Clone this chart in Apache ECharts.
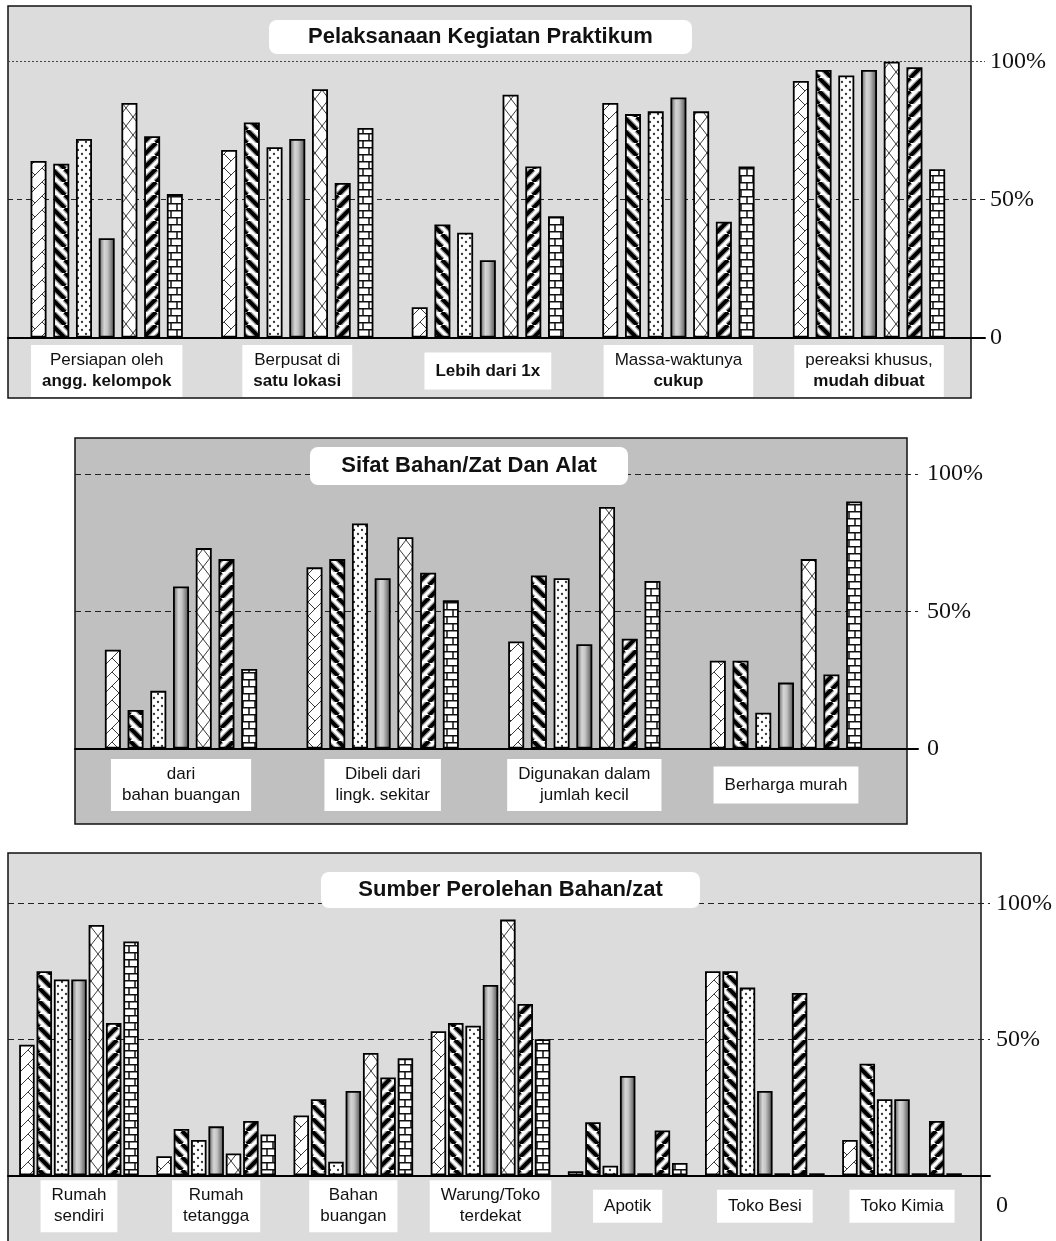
<!DOCTYPE html>
<html>
<head>
<meta charset="utf-8">
<script src="https://cdn.jsdelivr.net/npm/echarts@6/dist/echarts.min.js"></script>
<style>
  html, body { margin: 0; padding: 0; background: #fff; }
  #chart { width: 1056px; height: 1241px; }
</style>
</head>
<body>
<div id="chart"></div>
<script>
// ---------- data ----------
// Percentage scale shared by all three panels
const percentTicks = [0, 50, 100];

// Panel 1: Pelaksanaan Kegiatan Praktikum (one array per respondent group / bar pattern)
const kegiatanCategories = ['Persiapan oleh\nangg. kelompok', 'Berpusat di\nsatu lokasi', 'Lebih dari 1x', 'Massa-waktunya\ncukup', 'pereaksi khusus,\nmudah dibuat'];
const kegiatanGroup1 = [64, 68, 11, 85, 93];
const kegiatanGroup2 = [63, 78, 41, 81, 97];
const kegiatanGroup3 = [72, 69, 38, 82, 95];
const kegiatanGroup4 = [36, 72, 28, 87, 97];
const kegiatanGroup5 = [85, 90, 88, 82, 100];
const kegiatanGroup6 = [73, 56, 62, 42, 98];
const kegiatanGroup7 = [52, 76, 44, 62, 61];

// Panel 2: Sifat Bahan/Zat Dan Alat
const sifatCategories = ['dari\nbahan buangan', 'Dibeli dari\nlingk. sekitar', 'Digunakan dalam\njumlah kecil', 'Berharga murah'];
const sifatGroup1 = [36, 66, 39, 32];
const sifatGroup2 = [14, 69, 63, 32];
const sifatGroup3 = [21, 82, 62, 13];
const sifatGroup4 = [59, 62, 38, 24];
const sifatGroup5 = [73, 77, 88, 69];
const sifatGroup6 = [69, 64, 40, 27];
const sifatGroup7 = [29, 54, 61, 90];

// Panel 3: Sumber Perolehan Bahan/zat
const sumberCategories = ['Rumah\nsendiri', 'Rumah\ntetangga', 'Bahan\nbuangan', 'Warung/Toko\nterdekat', 'Apotik', 'Toko Besi', 'Toko Kimia'];
const sumberGroup1 = [48, 7, 22, 53, 1.5, 75, 13];
const sumberGroup2 = [75, 17, 28, 56, 19.5, 75, 41];
const sumberGroup3 = [72, 13, 5, 55, 3.5, 69, 28];
const sumberGroup4 = [72, 18, 31, 70, 36.5, 31, 28];
const sumberGroup5 = [92, 8, 45, 94, 0, 0, 0];
const sumberGroup6 = [56, 20, 36, 63, 16.5, 67, 20];
const sumberGroup7 = [86, 15, 43, 50, 4.5, 0, 0];

// ---------- bar fills ----------
function tile(w, h, draw) {
  const c = document.createElement('canvas');
  c.width = w; c.height = h;
  const g = c.getContext('2d');
  g.fillStyle = '#fff';
  g.fillRect(0, 0, w, h);
  draw(g, w, h);
  return { image: c, repeat: 'repeat' };
}
function stripes(dir) {
  return tile(13, 13, (g, w, h) => {
    [[6.5, '#a0a0a0'], [4, '#000']].forEach(([lw, col]) => {
      g.strokeStyle = col; g.lineWidth = lw;
      for (let k = -1; k <= 1; k++) {
        g.beginPath();
        if (dir > 0) { g.moveTo(k * w, 0); g.lineTo(k * w + w, h); }
        else { g.moveTo(k * w, h); g.lineTo(k * w + w, 0); }
        g.stroke();
      }
    });
  });
}
const fills = [
  // light slanted lattice
  tile(14, 14, (g, w, h) => {
    g.strokeStyle = '#3a3a3a'; g.lineWidth = 1;
    for (let k = -1; k <= 1; k++) { g.beginPath(); g.moveTo(k * w, h); g.lineTo(k * w + w, 0); g.stroke(); }
    g.beginPath(); g.moveTo(0, 0); g.lineTo(w / 2, h / 2); g.stroke();
  }),
  stripes(1),
  // dots
  tile(8, 8, (g) => {
    g.fillStyle = '#333';
    [[2, 2], [6, 6]].forEach(([x, y]) => { g.beginPath(); g.arc(x, y, 1.15, 0, Math.PI * 2); g.fill(); });
  }),
  // cylinder shading
  { type: 'linear', x: 0, y: 0, x2: 1, y2: 0, colorStops: [
    { offset: 0, color: '#5a5a5a' }, { offset: 0.35, color: '#d6d6d6' },
    { offset: 0.55, color: '#c4c4c4' }, { offset: 1, color: '#4a4a4a' } ] },
  // cross hatch
  tile(14, 18, (g, w, h) => {
    g.strokeStyle = '#3a3a3a'; g.lineWidth = 1;
    g.beginPath(); g.moveTo(0, 0); g.lineTo(w, h); g.moveTo(0, h); g.lineTo(w, 0); g.stroke();
  }),
  stripes(-1),
  // brick
  tile(12, 14, (g, w, h) => {
    g.strokeStyle = '#111'; g.lineWidth = 1.5;
    g.beginPath();
    g.moveTo(0, 0.75); g.lineTo(w, 0.75);
    g.moveTo(0, 7.75); g.lineTo(w, 7.75);
    g.moveTo(3, 0); g.lineTo(3, 7);
    g.moveTo(9, 7); g.lineTo(9, 14);
    g.stroke();
  })
];

// ---------- layout ----------
const TRANSPARENT = 'rgba(0,0,0,0)';
const SANS = '"Liberation Sans", Arial, sans-serif';
const SERIF = '"Liberation Serif", "Times New Roman", serif';

const option = { animation: false, grid: [], xAxis: [], yAxis: [], series: [], graphic: [] };

function catRich(singleLH) {
  const base = { fontFamily: SANS, fontSize: 17, color: '#111', lineHeight: 21 };
  return {
    n: Object.assign({}, base),
    b: Object.assign({}, base, { fontWeight: 'bold' }),
    one: Object.assign({}, base, { lineHeight: singleLH }),
    oneb: Object.assign({}, base, { lineHeight: singleLH, fontWeight: 'bold' })
  };
}

function addPanel(p) {
  // panel background and frame
  option.graphic.push({
    type: 'rect', z: -10, silent: true,
    shape: { x: p.box[0], y: p.box[1], width: p.box[2], height: p.box[3] },
    style: { fill: p.fill, stroke: '#111', lineWidth: 1.5 }
  });
  // title plate
  option.graphic.push({
    type: 'rect', z: 50, silent: true,
    shape: { x: p.title[0], y: p.title[1], width: p.title[2], height: p.title[3], r: 8 },
    style: { fill: '#fff' }
  });
  option.graphic.push({
    type: 'text', z: 51, silent: true,
    x: p.title[0] + p.title[2] / 2, y: p.title[1] + p.title[3] / 2,
    style: { text: p.titleText, font: 'bold 22px ' + SANS, fill: '#111',
      align: 'center', verticalAlign: 'middle', textAlign: 'center', textVerticalAlign: 'middle' }
  });

  // reference grid: percentage lines, zero line and labels
  const f = p.frame;
  const gf = option.grid.length;
  option.grid.push({ left: f.left, top: f.top, width: f.right - f.left, height: f.bottom - f.top,
    containLabel: false, outerBoundsMode: 'none' });
  option.xAxis.push({ gridIndex: gf, type: 'value', min: 0, max: 1, position: 'bottom',
    axisLine: { show: true, onZero: false, lineStyle: { color: '#000', width: 2 } },
    axisTick: { show: false }, axisLabel: { show: false }, splitLine: { show: false } });
  option.yAxis.push({ gridIndex: gf, type: 'value', min: percentTicks[0], max: percentTicks[2],
    interval: percentTicks[1] - percentTicks[0], position: 'right',
    axisLine: { show: false }, axisTick: { show: false },
    axisLabel: {
      margin: p.labelMargin, fontFamily: SERIF, fontSize: 24, color: '#111',
      formatter: v => v === 0 ? (p.zeroDrop ? '{low|0}' : '0') : v + '%',
      rich: { low: { fontFamily: SERIF, fontSize: 24, color: '#111', padding: [p.zeroDrop * 2, 0, 0, 0] } }
    },
    splitLine: { show: true, lineStyle: { type: p.dash, width: 1.2,
      color: [TRANSPARENT, '#222', p.dotted100 ? TRANSPARENT : '#222'] } }
  });
  if (p.dotted100) {
    option.yAxis.push({ gridIndex: gf, type: 'value', min: percentTicks[0], max: percentTicks[2],
      interval: percentTicks[2] - percentTicks[0], position: 'right',
      axisLine: { show: false }, axisTick: { show: false }, axisLabel: { show: false },
      splitLine: { show: true, lineStyle: { type: [2, 2], width: 1, color: [TRANSPARENT, '#444'] } } });
  }

  // bar grid
  const b = p.bars;
  const gb = option.grid.length;
  option.grid.push({ left: b.left, top: f.top, width: b.right - b.left, height: f.bottom - f.top,
    containLabel: false, outerBoundsMode: 'none' });
  option.xAxis.push({ gridIndex: gb, type: 'category', data: p.categories,
    axisLine: { show: false }, axisTick: { show: false }, splitLine: { show: false },
    axisLabel: { interval: 0, margin: p.catMargin, verticalAlign: 'middle',
      backgroundColor: '#fff', padding: [5, 11],
      fontFamily: SANS, fontSize: 17, color: '#111', lineHeight: 21,
      formatter: v => {
        const l = v.split('\n');
        if (l.length > 1) return '{n|' + l[0] + '}\n{' + (p.boldSecond ? 'b' : 'n') + '|' + l[1] + '}';
        return '{' + (p.boldSingle ? 'oneb' : 'one') + '|' + l[0] + '}';
      },
      rich: catRich(p.singleLH) } });
  const xb = option.xAxis.length - 1;
  option.yAxis.push({ gridIndex: gb, type: 'value', min: 0, max: 100, show: false });
  const yb = option.yAxis.length - 1;
  p.groups.forEach((row, i) => {
    option.series.push({
      type: 'bar', xAxisIndex: xb, yAxisIndex: yb, data: row, silent: true,
      barWidth: p.barWidth, barGap: p.barGap, barMinHeight: p.minHeight || 0,
      itemStyle: { color: fills[i], borderColor: '#000', borderWidth: 1.8 }
    });
  });
}

addPanel({
  box: [8, 6, 963, 392], fill: '#dcdcdc',
  title: [269, 20, 423, 34], titleText: 'Pelaksanaan Kegiatan Praktikum',
  frame: { left: 8, right: 985, top: 61.7, bottom: 337.5 },
  bars: { left: 11.4, right: 964.3 },
  labelMargin: 5, dash: [5, 4], dotted100: true,
  catMargin: 33.5, boldSecond: true, boldSingle: true, singleLH: 27,
  categories: kegiatanCategories,
  groups: [kegiatanGroup1, kegiatanGroup2, kegiatanGroup3, kegiatanGroup4, kegiatanGroup5, kegiatanGroup6, kegiatanGroup7],
  barWidth: 16, barGap: '42%'
});

addPanel({
  box: [75, 438, 832, 386], fill: '#c0c0c0',
  title: [310, 447, 318, 38], titleText: 'Sifat Bahan/Zat Dan Alat',
  frame: { left: 75, right: 918, top: 474, bottom: 748.5 },
  bars: { left: 80.2, right: 886.8 },
  labelMargin: 9, dash: [6, 4], dotted100: false,
  catMargin: 36.5, boldSecond: false, boldSingle: false, singleLH: 27,
  categories: sifatCategories,
  groups: [sifatGroup1, sifatGroup2, sifatGroup3, sifatGroup4, sifatGroup5, sifatGroup6, sifatGroup7],
  barWidth: 16, barGap: '42%'
});

addPanel({
  box: [8, 853, 973, 400], fill: '#dcdcdc',
  title: [321, 872, 379, 36], titleText: 'Sumber Perolehan Bahan/zat',
  frame: { left: 8, right: 990, top: 903.3, bottom: 1175.3 },
  bars: { left: 10.4, right: 970.6 },
  labelMargin: 6, dash: [6, 4], dotted100: false, zeroDrop: 30,
  catMargin: 31, boldSecond: false, boldSingle: false, singleLH: 23,
  categories: sumberCategories,
  groups: [sumberGroup1, sumberGroup2, sumberGroup3, sumberGroup4, sumberGroup5, sumberGroup6, sumberGroup7],
  barWidth: 15.5, barGap: '12%', minHeight: 2
});

const chart = echarts.init(document.getElementById('chart'), null, { renderer: 'canvas' });
chart.setOption(option);
</script>
</body>
</html>
